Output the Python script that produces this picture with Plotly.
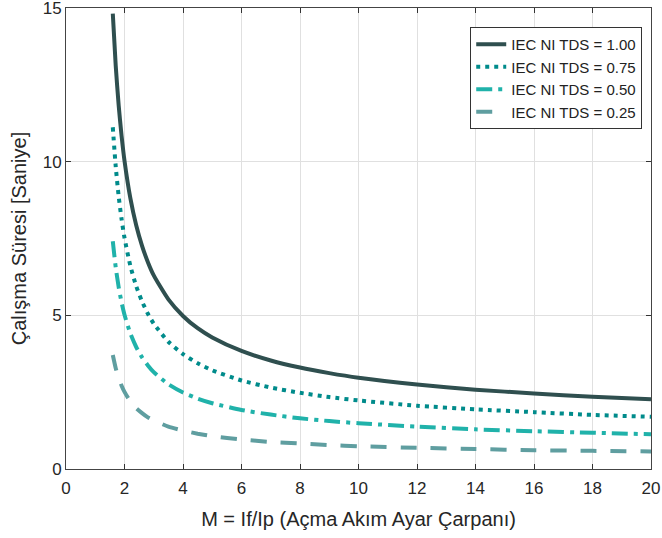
import plotly.graph_objects as go

M = [1.6, 1.7, 1.8, 1.9, 2.0, 2.2, 2.4, 2.6, 2.8, 3.0, 3.5, 4, 4.5, 5, 6, 7, 8, 9, 10, 12, 14, 16, 18, 20]
t_100 = [14.82, 13.12, 11.84, 10.84, 10.03, 8.81, 7.93, 7.26, 6.73, 6.30, 5.52, 4.98, 4.58, 4.28, 3.84, 3.53, 3.30, 3.12, 2.97, 2.75, 2.58, 2.46, 2.35, 2.27]
t_075 = [11.12, 9.84, 8.88, 8.13, 7.52, 6.61, 5.95, 5.45, 5.05, 4.73, 4.14, 3.74, 3.44, 3.21, 2.88, 2.65, 2.48, 2.34, 2.23, 2.06, 1.94, 1.85, 1.76, 1.70]
t_050 = [7.41, 6.56, 5.92, 5.42, 5.02, 4.41, 3.97, 3.63, 3.37, 3.15, 2.76, 2.49, 2.29, 2.14, 1.92, 1.77, 1.65, 1.56, 1.49, 1.38, 1.29, 1.23, 1.18, 1.13]
t_025 = [3.71, 3.28, 2.96, 2.71, 2.51, 2.20, 1.98, 1.82, 1.68, 1.58, 1.38, 1.25, 1.15, 1.07, 0.96, 0.88, 0.83, 0.78, 0.74, 0.69, 0.65, 0.61, 0.59, 0.57]
names = ["IEC NI TDS = 1.00", "IEC NI TDS = 0.75", "IEC NI TDS = 0.50", "IEC NI TDS = 0.25"]

series = [t_100, t_075, t_050, t_025]
colors = ["#2f4f4f", "#008b8b", "#20b2aa", "#5f9ea0"]
dashes = ["solid", "4px,5px", "16px,6px,4px,6px", "16px,14px"]

fig = go.Figure()
for ys, nm, c, d in zip(series, names, colors, dashes):
    fig.add_trace(go.Scatter(x=M, y=ys, name=nm, mode="lines",
                             line=dict(color=c, width=4, dash=d, shape="spline", smoothing=0.6)))

axis_common = dict(showline=True, linecolor="#444444", linewidth=1, mirror="ticks",
                   ticks="inside", ticklen=5, tickcolor="#333333",
                   showgrid=True, gridcolor="#e0e0e0", gridwidth=1, zeroline=False,
                   automargin=False, ticklabeloverflow="allow",
                   tickfont=dict(size=17, color="#262626"))

fig.update_layout(
    width=662, height=538,
    margin=dict(l=66, r=11, t=8, b=69),
    paper_bgcolor="white", plot_bgcolor="white",
    font=dict(family="Liberation Sans, Arial, sans-serif", color="#262626"),
    xaxis=dict(range=[0, 20], dtick=2, ticklabelstandoff=4,
               title=dict(text="M = If/Ip (Açma Akım Ayar Çarpanı)", font=dict(size=20), standoff=14),
               **axis_common),
    yaxis=dict(range=[0, 15], dtick=5,
               title=dict(text="Çalışma Süresi [Saniye]", font=dict(size=20), standoff=10),
               **axis_common),
    legend=dict(x=0.985, y=0.959, xanchor="right", yanchor="top",
                bgcolor="white", bordercolor="#333333", borderwidth=1,
                font=dict(size=15, color="#222222"), tracegroupgap=0),
    showlegend=True,
)

fig.write_html("out.html")
